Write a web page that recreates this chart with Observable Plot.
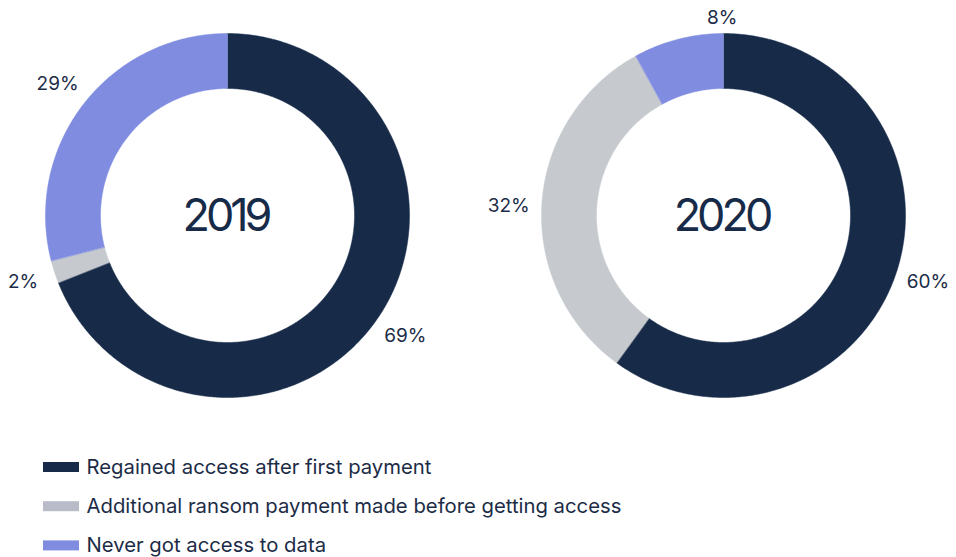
<!DOCTYPE html>
<html>
<head>
<meta charset="utf-8">
<script src="https://cdn.jsdelivr.net/npm/d3@7"></script>
<script src="https://cdn.jsdelivr.net/npm/@observablehq/plot@0.6"></script>
<style>
  html, body { margin: 0; padding: 0; background: #fff; }
  #chart svg { display: block; }
</style>
</head>
<body>
<div id="chart"></div>
<script>
// ---- data ----
const years = ["2019", "2020"];
const categories = [
  "Regained access after first payment",
  "Additional ransom payment made before getting access",
  "Never got access to data"
];
const values2019 = [69, 2, 29];
const values2020 = [60, 32, 8];
const percentLabels2019 = ["69%", "2%", "29%"];
const percentLabels2020 = ["60%", "32%", "8%"];

// ---- styling / layout ----
const sliceColors = ["#172b49", "#c6cacf", "#7f8ce0"];
const legendColors = ["#172b49", "#babbc9", "#7f8ce0"];
const textColor = "#1c2c47";
const W = 956, H = 557;
const centers = {"2019": [227, 215], "2020": [723, 215]};
const rOuter = 182, rInner = 127, rLabel = 215;
// small placement nudges for outside labels (degrees, radius)
const labelNudge = {"2020|1": [-1, 0], "2020|2": [14, -17]};

const series = {"2019": values2019, "2020": values2020};
const seriesLabels = {"2019": percentLabels2019, "2020": percentLabels2020};

const pie = d3.pie().sort(null).value(d => d);
const arcPts = [];
const labelRows = [];
years.forEach(yr => {
  const [cx, cy] = centers[yr];
  const arcs = pie(series[yr]);
  arcs.forEach((a, i) => {
    const key = yr + "|" + i;
    const n = Math.max(4, Math.ceil((a.endAngle - a.startAngle) / 0.01));
    const outer = d3.range(n + 1).map(k => a.startAngle + (a.endAngle - a.startAngle) * k / n);
    outer.forEach(t => arcPts.push({key, cat: categories[i], x: cx + rOuter * Math.sin(t), y: cy - rOuter * Math.cos(t)}));
    outer.slice().reverse().forEach(t => arcPts.push({key, cat: categories[i], x: cx + rInner * Math.sin(t), y: cy - rInner * Math.cos(t)}));
    const nudge = labelNudge[key] || [0, 0];
    const mid = (a.startAngle + a.endAngle) / 2 + nudge[0] * Math.PI / 180;
    const r = rLabel + nudge[1];
    labelRows.push({x: cx + r * Math.sin(mid), y: cy - r * Math.cos(mid), text: seriesLabels[yr][i]});
  });
});

const centerRows = years.map(yr => ({x: centers[yr][0], y: centers[yr][1], text: yr}));

const legendX = 43, legendTop = 467, legendStep = 39.2;
const legendRows = categories.map((c, i) => ({
  cat: c,
  x1: legendX, x2: legendX + 36,
  y1: legendTop + i * legendStep - 5, y2: legendTop + i * legendStep + 5,
  tx: legendX + 43, ty: legendTop + i * legendStep
}));

const chart = Plot.plot({
  width: W,
  height: H,
  margin: 0,
  style: {fontFamily: "Inter, 'Noto Sans', sans-serif", color: textColor, background: "#fff"},
  x: {domain: [0, W], range: [0, W], axis: null},
  y: {domain: [0, H], range: [0, H], axis: null},
  color: {domain: categories, range: sliceColors},
  marks: [
    Plot.line(arcPts, {x: "x", y: "y", z: "key", fill: "cat", stroke: "cat", strokeWidth: 0.5, curve: "linear-closed"}),
    Plot.text(centerRows, {x: "x", y: "y", text: "text", fontSize: 45, fill: "#172b49", dy: 1, dx: -2}),
    Plot.text(labelRows, {x: "x", y: "y", text: "text", fontSize: 19, fill: textColor}),
    Plot.rect(legendRows, {x1: "x1", x2: "x2", y1: "y1", y2: "y2", fill: (d, i) => legendColors[i]}),
    Plot.text(legendRows, {x: "tx", y: "ty", text: "cat", textAnchor: "start", fontSize: 20.3, fill: textColor})
  ]
});
// tighten the big year labels (first text mark)
const yearGroup = chart.querySelectorAll('g[aria-label="text"]')[0];
if (yearGroup) yearGroup.style.letterSpacing = "-4px";
document.getElementById("chart").append(chart);
</script>
</body>
</html>
